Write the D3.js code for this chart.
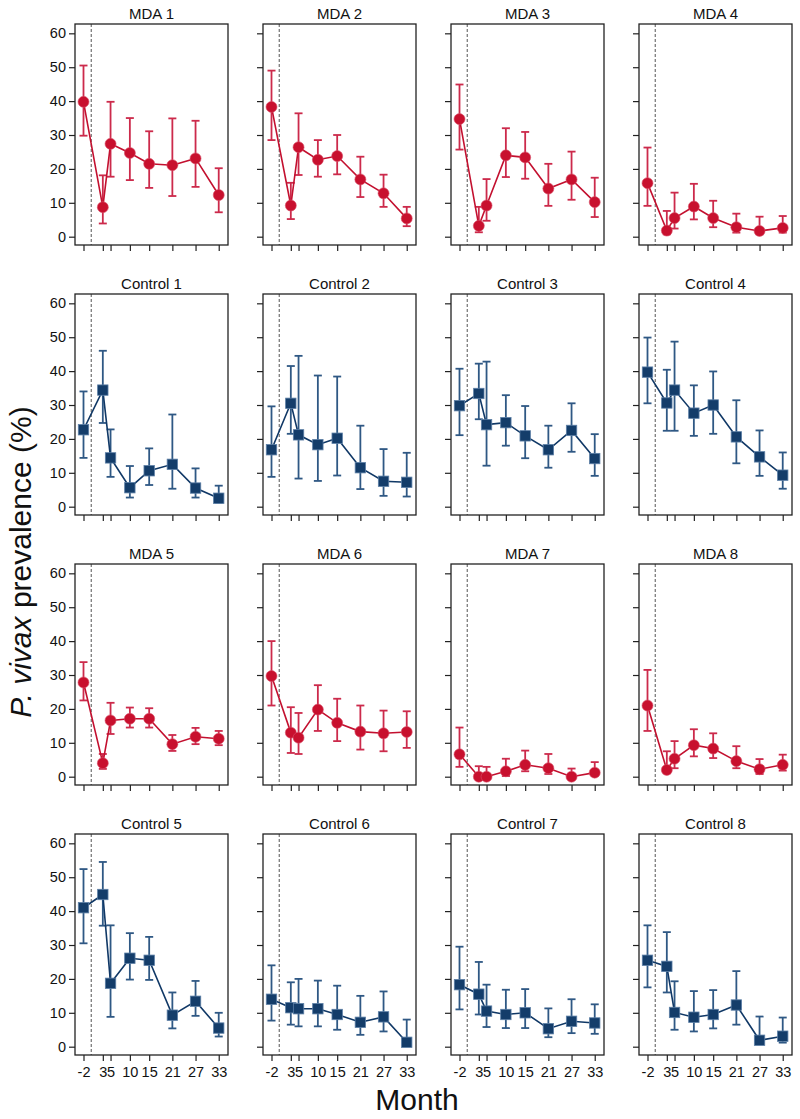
<!DOCTYPE html>
<html>
<head>
<meta charset="utf-8">
<script src="https://cdn.jsdelivr.net/npm/d3@7"></script>
<style>
  body { margin: 0; background: #fff; }
  svg { display: block; font-family: "Liberation Sans", Arial, sans-serif; }
</style>
</head>
<body>
<div id="chart"></div>
<script>
// months of survey (x axis ticks)
const MONTHS = [-2, 3, 5, 10, 15, 21, 27, 33];
const Y_TICKS = [0, 10, 20, 30, 40, 50, 60];

// prevalence estimates with lower / upper 95% CI
const MDA_1 = {est: [39.8, 8.7, 27.4, 24.7, 21.5, 21.1, 23.1, 12.3],
               lo:  [29.8, 3.9, 17.7, 16.7, 14.4, 12.0, 14.7, 7.2],
               hi:  [50.5, 18.1, 39.8, 35.0, 31.1, 34.9, 34.2, 20.2]};
const MDA_2 = {est: [38.3, 9.2, 26.4, 22.7, 23.8, 16.9, 12.8, 5.4],
               lo:  [28.5, 5.2, 18.2, 17.7, 18.4, 11.7, 8.8, 3.1],
               hi:  [49.0, 15.9, 36.4, 28.5, 30.0, 23.6, 18.3, 8.8]};
const MDA_3 = {est: [34.7, 3.2, 9.2, 24.0, 23.4, 14.2, 16.9, 10.2],
               lo:  [25.7, 1.3, 4.7, 17.6, 17.1, 9.1, 10.9, 5.8],
               hi:  [44.9, 8.8, 17.0, 32.0, 30.9, 21.5, 25.1, 17.4]};
const MDA_4 = {est: [15.8, 1.8, 5.5, 8.9, 5.5, 2.8, 1.7, 2.6],
               lo:  [9.1, 0.7, 2.4, 5.1, 2.8, 1.2, 0.7, 1.2],
               hi:  [26.3, 7.6, 13.0, 15.6, 10.6, 6.8, 5.9, 6.1]};
const CONTROL_1 = {est: [22.7, 34.4, 14.4, 5.6, 10.6, 12.5, 5.5, 2.5],
                   lo:  [14.4, 24.7, 8.8, 2.7, 6.4, 5.3, 2.7, 1.2],
                   hi:  [34.0, 46.0, 22.8, 12.0, 17.2, 27.2, 11.3, 6.2]};
const CONTROL_2 = {est: [16.8, 30.5, 21.2, 18.3, 20.2, 11.5, 7.5, 7.2],
                   lo:  [8.8, 21.5, 8.3, 7.6, 9.2, 5.2, 3.2, 3.0],
                   hi:  [29.6, 41.5, 44.5, 38.7, 38.4, 23.9, 17.0, 15.9]};
const CONTROL_3 = {est: [29.8, 33.4, 24.2, 24.8, 20.9, 16.8, 22.5, 14.2],
                   lo:  [21.1, 25.8, 12.1, 18.0, 14.3, 11.5, 16.2, 9.1],
                   hi:  [40.7, 42.2, 42.8, 32.9, 29.7, 23.9, 30.5, 21.4]};
const CONTROL_4 = {est: [39.7, 30.6, 34.4, 27.6, 30.0, 20.6, 14.7, 9.3],
                   lo:  [30.5, 22.4, 22.4, 20.9, 21.5, 12.8, 9.1, 5.3],
                   hi:  [49.9, 40.4, 48.7, 35.8, 39.9, 31.4, 22.5, 16.0]};
const MDA_5 = {est: [27.8, 4.0, 16.6, 17.1, 17.1, 9.6, 11.8, 11.2],
               lo:  [22.5, 2.3, 12.6, 14.5, 14.5, 7.6, 9.6, 9.3],
               hi:  [33.8, 6.7, 21.8, 20.4, 20.2, 12.3, 14.4, 13.5]};
const MDA_6 = {est: [29.7, 13.0, 11.5, 19.8, 15.9, 13.3, 12.8, 13.2],
               lo:  [21.0, 7.0, 6.7, 13.5, 10.5, 8.0, 7.5, 8.5],
               hi:  [40.0, 20.5, 18.8, 27.0, 23.0, 21.0, 19.5, 19.3]};
const MDA_7 = {est: [6.6, 0.0, 0.0, 1.6, 3.5, 2.5, 0.0, 1.2],
               lo:  [2.9, 0.0, 0.0, 0.2, 1.6, 0.8, 0.0, 0.3],
               hi:  [14.5, 3.1, 2.9, 5.3, 7.7, 6.7, 2.4, 4.3]};
const MDA_8 = {est: [21.0, 2.0, 5.3, 9.3, 8.3, 4.6, 2.2, 3.5],
               lo:  [13.5, 1.0, 2.5, 6.0, 5.5, 2.5, 0.8, 1.8],
               hi:  [31.5, 7.5, 10.5, 14.0, 12.8, 9.0, 5.2, 6.5]};
const CONTROL_5 = {est: [41.0, 44.9, 18.7, 26.1, 25.5, 9.3, 13.4, 5.5],
                   lo:  [30.5, 35.7, 8.8, 19.8, 19.7, 5.4, 9.1, 3.0],
                   hi:  [52.4, 54.5, 35.8, 33.5, 32.4, 16.0, 19.4, 10.0]};
const CONTROL_6 = {est: [14.0, 11.5, 11.2, 11.2, 9.5, 7.2, 8.8, 1.3],
                   lo:  [7.7, 6.5, 6.0, 6.0, 5.0, 3.5, 4.5, 0.3],
                   hi:  [24.0, 19.0, 20.0, 19.5, 18.0, 15.0, 16.3, 8.0]};
const CONTROL_7 = {est: [18.3, 15.5, 10.5, 9.5, 10.0, 5.3, 7.5, 7.0],
                   lo:  [11.0, 9.5, 5.8, 5.5, 5.5, 2.8, 4.0, 3.8],
                   hi:  [29.5, 25.0, 18.3, 16.8, 17.0, 11.3, 14.0, 12.5]};
const CONTROL_8 = {est: [25.5, 23.7, 10.1, 8.7, 9.5, 12.3, 1.9, 3.1],
                   lo:  [17.5, 16.0, 5.0, 4.5, 5.4, 6.5, 1.0, 1.2],
                   hi:  [35.8, 33.8, 19.3, 16.4, 16.7, 22.3, 8.9, 8.6]};

// panels in grid order (row by row)
const PANELS = [
  {title: "MDA 1", arm: "mda", d: MDA_1}, {title: "MDA 2", arm: "mda", d: MDA_2},
  {title: "MDA 3", arm: "mda", d: MDA_3}, {title: "MDA 4", arm: "mda", d: MDA_4},
  {title: "Control 1", arm: "ctl", d: CONTROL_1}, {title: "Control 2", arm: "ctl", d: CONTROL_2},
  {title: "Control 3", arm: "ctl", d: CONTROL_3}, {title: "Control 4", arm: "ctl", d: CONTROL_4},
  {title: "MDA 5", arm: "mda", d: MDA_5}, {title: "MDA 6", arm: "mda", d: MDA_6},
  {title: "MDA 7", arm: "mda", d: MDA_7}, {title: "MDA 8", arm: "mda", d: MDA_8},
  {title: "Control 5", arm: "ctl", d: CONTROL_5}, {title: "Control 6", arm: "ctl", d: CONTROL_6},
  {title: "Control 7", arm: "ctl", d: CONTROL_7}, {title: "Control 8", arm: "ctl", d: CONTROL_8}
];

const COLORS = {
  mda: {line: "#c3102f", bar: "#cc2a4b", fill: "#c8102e", edge: "#d9506a"},
  ctl: {line: "#103866", bar: "#2f5884", fill: "#143d6a", edge: "#5c7fa6"}
};

// frame dimensions
const FRAME_WIDTH = 800;
const FRAME_HEIGHT = 1119;
const PANEL_W = 153;
const PANEL_H = 221;
const COL_STEP = 188;
const ROW_STEP = 270;
const LEFT0 = 75;
const TOP0 = 24;

const svg = d3.select("#chart")
  .append("svg")
  .attr("width", FRAME_WIDTH)
  .attr("height", FRAME_HEIGHT);

const X_SCALE = d3.scaleLinear().domain([-4.2, 35.4]).range([0, PANEL_W]);
const Y_SCALE = d3.scaleLinear().domain([-2.45, 62.75]).range([PANEL_H, 0]);

// plain hyphen for negatives, like the original
const plainLabel = (d) => String(d);
const noLabel = () => "";

PANELS.forEach((p, i) => {
  const row = Math.floor(i / 4);
  const col = i % 4;
  const c = COLORS[p.arm];
  const g = svg.append("g")
    .attr("transform", "translate(" + (LEFT0 + col * COL_STEP) + "," + (TOP0 + row * ROW_STEP) + ")");

  // title
  g.append("text")
    .attr("x", PANEL_W / 2)
    .attr("y", -5.5)
    .attr("text-anchor", "middle")
    .attr("font-size", "15px")
    .attr("fill", "#111")
    .text(p.title);

  // y axis
  const yAxis = g.append("g")
    .attr("font-size", 14.5)
    .call(d3.axisLeft(Y_SCALE).tickValues(Y_TICKS).tickSize(6).tickPadding(3)
      .tickFormat(col === 0 ? plainLabel : noLabel));
  yAxis.attr("font-size", 14.5).attr("font-family", "Liberation Sans, Arial, sans-serif");
  yAxis.select(".domain").remove();
  yAxis.selectAll("line").attr("stroke", "#222").attr("stroke-width", 1.2);
  yAxis.selectAll("text").attr("fill", "#111");

  // x axis
  const xAxis = g.append("g")
    .attr("transform", "translate(0," + PANEL_H + ")")
    .call(d3.axisBottom(X_SCALE).tickValues(MONTHS).tickSize(6).tickPadding(6)
      .tickFormat(row === 3 ? plainLabel : noLabel));
  xAxis.attr("font-size", 14.5).attr("font-family", "Liberation Sans, Arial, sans-serif");
  xAxis.select(".domain").remove();
  xAxis.selectAll("line").attr("stroke", "#222").attr("stroke-width", 1.2);
  xAxis.selectAll("text").attr("fill", "#111");

  // dashed line at start of MDA
  g.append("line")
    .attr("x1", X_SCALE(0)).attr("x2", X_SCALE(0))
    .attr("y1", 0).attr("y2", PANEL_H)
    .attr("stroke", "#555")
    .attr("stroke-width", 1)
    .attr("stroke-dasharray", "3,2");

  const pts = MONTHS.map((m, j) => ({m: m, est: p.d.est[j], lo: p.d.lo[j], hi: p.d.hi[j]}));

  // error bars
  const bars = g.append("g")
    .attr("stroke", c.bar)
    .attr("stroke-width", 1.8)
    .attr("fill", "none");
  bars.selectAll(".ci")
    .data(pts)
    .enter()
    .append("line")
      .attr("x1", (d) => X_SCALE(d.m)).attr("x2", (d) => X_SCALE(d.m))
      .attr("y1", (d) => Y_SCALE(d.lo)).attr("y2", (d) => Y_SCALE(d.hi));
  ["lo", "hi"].forEach((k) => {
    bars.selectAll(".cap-" + k)
      .data(pts)
      .enter()
      .append("line")
        .attr("x1", (d) => X_SCALE(d.m) - 4).attr("x2", (d) => X_SCALE(d.m) + 4)
        .attr("y1", (d) => Y_SCALE(d[k])).attr("y2", (d) => Y_SCALE(d[k]));
  });

  // connecting line
  g.append("path")
    .datum(pts)
    .attr("fill", "none")
    .attr("stroke", c.line)
    .attr("stroke-width", 1.6)
    .attr("d", d3.line().x((d) => X_SCALE(d.m)).y((d) => Y_SCALE(d.est)));

  // markers
  if (p.arm === "mda") {
    g.selectAll(".dot")
      .data(pts)
      .enter()
      .append("circle")
        .attr("cx", (d) => X_SCALE(d.m))
        .attr("cy", (d) => Y_SCALE(d.est))
        .attr("r", 5.5)
        .attr("fill", c.fill)
        .attr("stroke", c.edge)
        .attr("stroke-width", 0.6);
  } else {
    g.selectAll(".sq")
      .data(pts)
      .enter()
      .append("rect")
        .attr("x", (d) => X_SCALE(d.m) - 5.2)
        .attr("y", (d) => Y_SCALE(d.est) - 5.2)
        .attr("width", 10.4)
        .attr("height", 10.4)
        .attr("fill", c.fill)
        .attr("stroke", c.edge)
        .attr("stroke-width", 0.8);
  }

  // panel frame
  g.append("rect")
    .attr("width", PANEL_W)
    .attr("height", PANEL_H)
    .attr("fill", "none")
    .attr("stroke", "#222")
    .attr("stroke-width", 1.3);
});

// y axis title
const yTitle = svg.append("text")
  .attr("transform", "translate(31,562) rotate(-90)")
  .attr("text-anchor", "middle")
  .attr("font-size", "30px")
  .attr("fill", "#111");
yTitle.append("tspan").attr("font-style", "italic").text("P. vivax");
yTitle.append("tspan").text(" prevalence (%)");

// x axis title
svg.append("text")
  .attr("x", 417)
  .attr("y", 1110)
  .attr("text-anchor", "middle")
  .attr("font-size", "30px")
  .attr("fill", "#111")
  .text("Month");
</script>
</body>
</html>
